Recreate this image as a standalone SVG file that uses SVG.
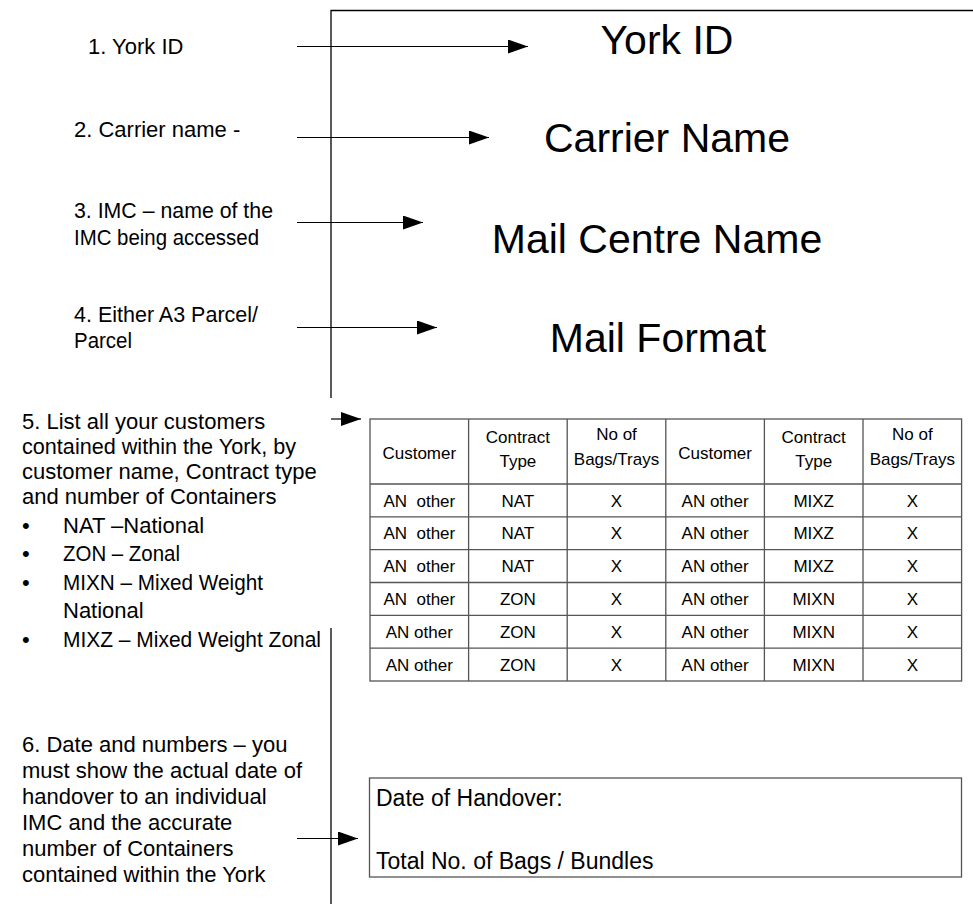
<svg xmlns="http://www.w3.org/2000/svg" width="973" height="904" viewBox="0 0 973 904">
<defs>
<marker id="ah" viewBox="0 0 20 14" refX="20" refY="7" markerWidth="20" markerHeight="14" markerUnits="userSpaceOnUse" orient="auto">
<path d="M0,0 L20,7 L0,14 Z" fill="#000"/>
</marker>
<style>
text{font-family:"Liberation Sans",Arial,sans-serif;fill:#000}
.lbl{font-size:22px}
.big{font-size:41px;text-anchor:middle}
.th{font-size:17px;text-anchor:middle}
.td{font-size:17px;text-anchor:middle;white-space:pre}
.box{font-size:23px}
.frame{stroke:#000;stroke-width:1.3;fill:none}
.conn{stroke:#000;stroke-width:1.2;fill:none;marker-end:url(#ah)}
.grid{stroke:#555;stroke-width:1.3;fill:none}
</style>
</defs>
<rect width="973" height="904" fill="#fff"/>

<g id="frame">
<path class="frame" d="M331,398 V10.5 H973"/>
<path class="frame" d="M331,628 V904"/>
</g>

<g id="connectors">
<line class="conn" x1="297" y1="46.5" x2="528" y2="46.5"/>
<line class="conn" x1="297" y1="137.5" x2="489" y2="137.5"/>
<line class="conn" x1="297" y1="222.5" x2="423" y2="222.5"/>
<line class="conn" x1="297" y1="327.5" x2="437" y2="327.5"/>
<line class="conn" x1="331" y1="419" x2="361" y2="419"/>
<line class="conn" x1="297" y1="838.5" x2="358" y2="838.5"/>
</g>

<g id="label1"><text class="lbl" x="88" y="54">1. York ID</text></g>
<g id="label2"><text class="lbl" x="74" y="137">2. Carrier name -</text></g>
<g id="label3"><text class="lbl" x="74" y="218" textLength="199" lengthAdjust="spacingAndGlyphs">3. IMC – name of the</text><text class="lbl" x="74" y="245" textLength="185" lengthAdjust="spacingAndGlyphs">IMC being accessed</text></g>
<g id="label4"><text class="lbl" x="74" y="322" textLength="184" lengthAdjust="spacingAndGlyphs">4. Either A3 Parcel/</text><text class="lbl" x="74" y="348" textLength="58" lengthAdjust="spacingAndGlyphs">Parcel</text></g>
<g id="label5">
<text class="lbl" x="22" y="429">5. List all your customers</text>
<text class="lbl" x="22" y="454" textLength="274" lengthAdjust="spacingAndGlyphs">contained within the York, by</text>
<text class="lbl" x="22" y="479">customer name, Contract type</text>
<text class="lbl" x="22" y="504">and number of Containers</text>
<text class="lbl" x="22" y="533">•</text><text class="lbl" x="63" y="533">NAT –National</text>
<text class="lbl" x="22" y="561">•</text><text class="lbl" x="63" y="561" textLength="117" lengthAdjust="spacingAndGlyphs">ZON – Zonal</text>
<text class="lbl" x="22" y="590">•</text><text class="lbl" x="63" y="590" textLength="200" lengthAdjust="spacingAndGlyphs">MIXN – Mixed Weight</text>
<text class="lbl" x="63" y="618">National</text>
<text class="lbl" x="22" y="647">•</text><text class="lbl" x="63" y="647" textLength="258" lengthAdjust="spacingAndGlyphs">MIXZ – Mixed Weight Zonal</text>
</g>
<g id="label6">
<text class="lbl" x="22" y="752">6. Date and numbers – you</text>
<text class="lbl" x="22" y="778">must show the actual date of</text>
<text class="lbl" x="22" y="804">handover to an individual</text>
<text class="lbl" x="22" y="830">IMC and the accurate</text>
<text class="lbl" x="22" y="856">number of Containers</text>
<text class="lbl" x="22" y="882">contained within the York</text>
</g>

<g id="york-id"><text class="big" x="667" y="54">York ID</text></g>
<g id="carrier-name"><text class="big" x="667" y="152">Carrier Name</text></g>
<g id="mail-centre-name"><text class="big" x="657" y="253">Mail Centre Name</text></g>
<g id="mail-format"><text class="big" x="658" y="352">Mail Format</text></g>

<g id="customer-table">
<rect class="grid" x="370" y="419" width="591.6" height="262"/>
<path class="grid" d="M468.6,419V681 M567.2,419V681 M665.8,419V681 M764.4,419V681 M863,419V681 M370,484H961.6 M370,516.8H961.6 M370,549.7H961.6 M370,582.5H961.6 M370,615.3H961.6 M370,648.2H961.6"/>
<text class="th" x="419.3" y="459">Customer</text>
<text class="th" x="517.9" y="443">Contract</text><text class="th" x="517.9" y="467">Type</text>
<text class="th" x="616.5" y="440">No of</text><text class="th" x="616.5" y="465">Bags/Trays</text>
<text class="th" x="715.1" y="459">Customer</text>
<text class="th" x="813.7" y="443">Contract</text><text class="th" x="813.7" y="467">Type</text>
<text class="th" x="912.3" y="440">No of</text><text class="th" x="912.3" y="465">Bags/Trays</text>

<text class="td" x="419.3" y="506.5">AN  other</text><text class="td" x="517.9" y="506.5">NAT</text><text class="td" x="616.5" y="506.5">X</text><text class="td" x="715.1" y="506.5">AN other</text><text class="td" x="813.7" y="506.5">MIXZ</text><text class="td" x="912.3" y="506.5">X</text>
<text class="td" x="419.3" y="539.3">AN  other</text><text class="td" x="517.9" y="539.3">NAT</text><text class="td" x="616.5" y="539.3">X</text><text class="td" x="715.1" y="539.3">AN other</text><text class="td" x="813.7" y="539.3">MIXZ</text><text class="td" x="912.3" y="539.3">X</text>
<text class="td" x="419.3" y="572.2">AN  other</text><text class="td" x="517.9" y="572.2">NAT</text><text class="td" x="616.5" y="572.2">X</text><text class="td" x="715.1" y="572.2">AN other</text><text class="td" x="813.7" y="572.2">MIXZ</text><text class="td" x="912.3" y="572.2">X</text>
<text class="td" x="419.3" y="605">AN  other</text><text class="td" x="517.9" y="605">ZON</text><text class="td" x="616.5" y="605">X</text><text class="td" x="715.1" y="605">AN other</text><text class="td" x="813.7" y="605">MIXN</text><text class="td" x="912.3" y="605">X</text>
<text class="td" x="419.3" y="637.8">AN other</text><text class="td" x="517.9" y="637.8">ZON</text><text class="td" x="616.5" y="637.8">X</text><text class="td" x="715.1" y="637.8">AN other</text><text class="td" x="813.7" y="637.8">MIXN</text><text class="td" x="912.3" y="637.8">X</text>
<text class="td" x="419.3" y="670.7">AN other</text><text class="td" x="517.9" y="670.7">ZON</text><text class="td" x="616.5" y="670.7">X</text><text class="td" x="715.1" y="670.7">AN other</text><text class="td" x="813.7" y="670.7">MIXN</text><text class="td" x="912.3" y="670.7">X</text>
</g>

<g id="handover-box">
<rect class="grid" x="369.5" y="778" width="592" height="99"/>
<text class="box" x="376" y="806">Date of Handover:</text>
<text class="box" x="376" y="869">Total No. of Bags / Bundles</text>
</g>
</svg>
